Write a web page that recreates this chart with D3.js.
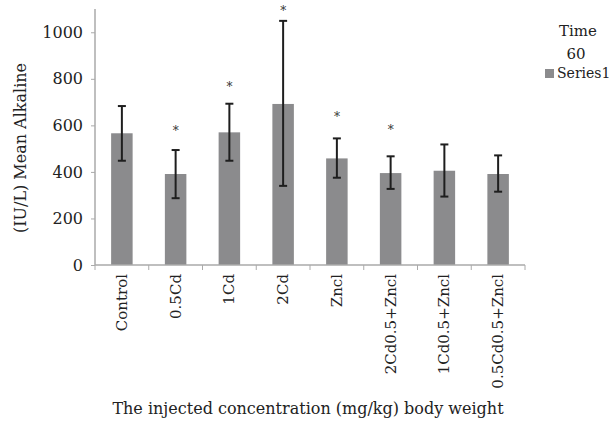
<html>
<head>
<script src="https://d3js.org/d3.v7.min.js"></script>
<style>
  body { margin: 0; background: #fff; }
  text { font-family: "DejaVu Serif", serif; fill: #222; }
</style>
</head>
<body>
<script>
// groups and their means (IU/L)
var groups = ["Control", "0.5Cd", "1Cd", "2Cd", "Zncl", "2Cd0.5+Zncl", "1Cd0.5+Zncl", "0.5Cd0.5+Zncl"];
var means = [566, 391, 570, 692, 458, 395, 405, 391];
var errLow = [448, 287, 448, 340, 375, 327, 294, 315];
var errHigh = [683, 494, 693, 1049, 544, 467, 518, 471];
// star markers (null = none), value where the * sits
var stars = [null, 594, 783, 1109, 652, 597, null, null];
var yTicks = [0, 200, 400, 600, 800, 1000];

var width = 613, height = 427;
var margin = {left: 95, right: 88, top: 9, bottom: 162};

var svg = d3.select("body").append("svg")
    .attr("width", width)
    .attr("height", height);

var x = d3.scaleBand()
    .domain(groups)
    .range([margin.left, width - margin.right])
    .paddingInner(0.6)
    .paddingOuter(0.3);

var y = d3.scaleLinear()
    .domain([0, 1100])
    .range([height - margin.bottom, margin.top]);

// bars
svg.append("g").selectAll("rect")
  .data(groups)
  .enter().append("rect")
    .attr("x", function(d) { return x(d); })
    .attr("y", function(d, i) { return y(means[i]); })
    .attr("width", x.bandwidth())
    .attr("height", function(d, i) { return y(0) - y(means[i]); })
    .style("fill", "#8b8b8d");

// axes
var yAxis = svg.append("g")
    .attr("transform", "translate(" + margin.left + ",0)")
    .call(d3.axisLeft(y).tickValues(yTicks).tickFormat(d3.format("d")).tickSize(4).tickPadding(8));
yAxis.select(".domain").attr("stroke", "#aaa").attr("stroke-width", 1.5).attr("d", "M0," + y(1100) + "V" + y(0));
yAxis.selectAll(".tick line").attr("stroke", "#aaa");
yAxis.selectAll(".tick text").style("font-size", "16px").style("fill", "#222");

var step = x.step();
var xAxis = svg.append("g")
    .attr("transform", "translate(0," + y(0) + ")");
xAxis.append("line")
    .attr("x1", margin.left).attr("x2", width - margin.right)
    .attr("stroke", "#aaa").attr("stroke-width", 1.5);
xAxis.selectAll(".xt")
  .data(d3.range(groups.length + 1))
  .enter().append("line")
    .attr("x1", function(d) { return x(groups[0]) - step * 0.3 + d * step; })
    .attr("x2", function(d) { return x(groups[0]) - step * 0.3 + d * step; })
    .attr("y1", 0).attr("y2", 5)
    .attr("stroke", "#aaa");
xAxis.selectAll(".xl")
  .data(groups)
  .enter().append("text")
    .attr("transform", function(d) { return "translate(" + (x(d) + x.bandwidth() / 2 + 5) + ",9) rotate(-90)"; })
    .attr("text-anchor", "end")
    .style("font-size", "15px")
    .text(function(d) { return d; });

// error bars
var eb = svg.append("g").selectAll("g")
  .data(groups)
  .enter().append("g")
    .attr("stroke", "#1e1e1e")
    .attr("stroke-width", 2);
eb.append("line")
    .attr("x1", function(d) { return x(d) + x.bandwidth() / 2; })
    .attr("x2", function(d) { return x(d) + x.bandwidth() / 2; })
    .attr("y1", function(d, i) { return y(errLow[i]); })
    .attr("y2", function(d, i) { return y(errHigh[i]); });
[errLow, errHigh].forEach(function(arr) {
  eb.append("line")
      .attr("x1", function(d) { return x(d) + x.bandwidth() / 2 - 4; })
      .attr("x2", function(d) { return x(d) + x.bandwidth() / 2 + 4; })
      .attr("y1", function(d, i) { return y(arr[i]); })
      .attr("y2", function(d, i) { return y(arr[i]); });
});

// stars
svg.append("g").selectAll("text")
  .data(groups.filter(function(d, i) { return stars[i] != null; }))
  .enter().append("text")
    .attr("x", function(d) { return x(d) + x.bandwidth() / 2; })
    .attr("y", function(d) { return y(stars[groups.indexOf(d)]) + 8; })
    .attr("text-anchor", "middle")
    .style("font-size", "12px")
    .style("fill", "#333")
    .text("*");

// axis titles
svg.append("text")
    .attr("transform", "translate(26," + 148 + ") rotate(-90)")
    .attr("text-anchor", "middle")
    .style("font-size", "16px")
    .text("(IU/L) Mean Alkaline");

svg.append("text")
    .attr("x", 308)
    .attr("y", 414)
    .attr("text-anchor", "middle")
    .style("font-size", "16px")
    .text("The injected concentration (mg/kg) body weight");

// legend
var lg = svg.append("g");
lg.append("text").attr("x", 578).attr("y", 36).attr("text-anchor", "middle").style("font-size", "15px").text("Time");
lg.append("text").attr("x", 576).attr("y", 59).attr("text-anchor", "middle").style("font-size", "15px").text("60");
lg.append("rect").attr("x", 545).attr("y", 69).attr("width", 9).attr("height", 9).style("fill", "#8b8b8d");
lg.append("text").attr("x", 557).attr("y", 78).style("font-size", "14px").text("Series1");
</script>
</body>
</html>
